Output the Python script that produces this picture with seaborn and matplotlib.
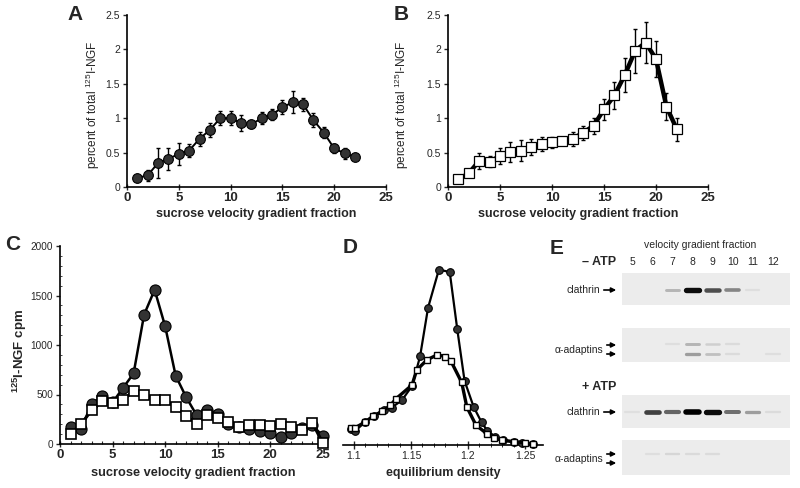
import matplotlib
matplotlib.use('Agg')
import matplotlib.pyplot as plt
import seaborn as sns
from matplotlib.patches import FancyArrowPatch
from matplotlib.ticker import MultipleLocator

# ---- data ----
# A / B: percent of total 125I-NGF per sucrose velocity gradient fraction
fraction_ab = list(range(1, 23))
pct_a = [0.13, 0.17, 0.35, 0.41, 0.48, 0.53, 0.70, 0.83, 1.00, 1.00, 0.93,
         0.91, 1.00, 1.05, 1.16, 1.23, 1.20, 0.97, 0.79, 0.56, 0.49, 0.44]
err_a = [0.03, 0.08, 0.22, 0.16, 0.16, 0.10, 0.10, 0.10, 0.10, 0.10, 0.12,
         0.05, 0.09, 0.08, 0.10, 0.16, 0.10, 0.10, 0.08, 0.06, 0.08, 0.04]
pct_b = [0.11, 0.20, 0.38, 0.37, 0.45, 0.51, 0.53, 0.58, 0.62, 0.65, 0.67,
         0.70, 0.79, 0.89, 1.13, 1.33, 1.63, 1.98, 2.10, 1.86, 1.17, 0.84]
err_b = [0.02, 0.05, 0.12, 0.08, 0.12, 0.14, 0.15, 0.12, 0.10, 0.08, 0.06,
         0.10, 0.10, 0.12, 0.15, 0.20, 0.25, 0.32, 0.30, 0.26, 0.20, 0.17]

# C: 125I-NGF cpm per velocity fraction
fraction_c = list(range(1, 26))
cpm_c_circle = [173, 147, 407, 480, 420, 567, 713, 1307, 1557, 1190, 690, 473,
                290, 347, 307, 207, 167, 147, 130, 107, 73, 113, 157, 190, 80]
cpm_c_square = [100, 200, 340, 433, 417, 440, 540, 497, 440, 440, 373, 285,
                207, 290, 267, 223, 167, 190, 190, 183, 197, 173, 140, 213, 10]

# D: cpm vs equilibrium density
dens_d_circle = [1.097, 1.101, 1.110, 1.118, 1.126, 1.133, 1.142, 1.151, 1.158,
                 1.165, 1.1745, 1.184, 1.1906, 1.197, 1.205, 1.212, 1.217,
                 1.224, 1.231, 1.240, 1.247, 1.257]
cpm_d_circle = [155, 135, 230, 290, 352, 372, 445, 590, 888, 1378, 1762, 1738,
                1162, 642, 378, 222, 138, 78, 45, 22, 12, 5]
dens_d_square = [1.097, 1.101, 1.110, 1.117, 1.125, 1.132, 1.137, 1.151, 1.155,
                 1.164, 1.173, 1.180, 1.185, 1.1945, 1.199, 1.207, 1.217,
                 1.223, 1.230, 1.240, 1.250, 1.257]
cpm_d_square = [170, 168, 228, 288, 335, 395, 462, 600, 750, 852, 904, 886,
                842, 625, 378, 195, 105, 62, 45, 28, 18, 5]

# E: band intensities (0..1) per lane
lanes = [5, 6, 7, 8, 9, 10, 11, 12]
clathrin_minus = [0.0, 0.0, 0.25, 0.95, 0.7, 0.45, 0.03, 0.0]
adaptin_minus_up = [0.0, 0.0, 0.03, 0.25, 0.12, 0.05, 0.0, 0.0]
adaptin_minus_lo = [0.0, 0.0, 0.0, 0.35, 0.2, 0.05, 0.0, 0.03]
clathrin_plus = [0.02, 0.75, 0.6, 1.0, 0.95, 0.55, 0.35, 0.05]
adaptin_plus_up = [0.0, 0.03, 0.08, 0.06, 0.05, 0.0, 0.0, 0.0]
adaptin_plus_lo = [0.0, 0.0, 0.0, 0.0, 0.0, 0.0, 0.0, 0.0]

# ---- style ----
sns.set_theme(style='ticks')
plt.rcParams['font.family'] = ['Liberation Sans', 'DejaVu Sans']
plt.rcParams['mathtext.default'] = 'regular'

W, H = 800, 488
fig = plt.figure(figsize=(8, 4.88), dpi=100)


def box(x0, y0, x1, y1):
    return [x0 / W, 1 - y1 / H, (x1 - x0) / W, (y1 - y0) / H]


def fpos(x, y):
    return (x / W, 1 - y / H)


dark = '#333333'

# ---- A ----
axA = fig.add_axes(box(127, 15, 386, 187))
axA.errorbar(fraction_ab, pct_a, yerr=err_a, fmt='none', ecolor='black',
             elinewidth=1, capsize=1.5, capthick=1, zorder=2)
sns.lineplot(x=fraction_ab, y=pct_a, ax=axA, color='black', lw=1.4, marker='o',
             markersize=7, markerfacecolor=dark, markeredgecolor='black',
             markeredgewidth=0.8, zorder=3)

# ---- B ----
axB = fig.add_axes(box(448, 15, 708, 187))
axB.errorbar(fraction_ab, pct_b, yerr=err_b, fmt='none', ecolor='black',
             elinewidth=1, capsize=1.5, capthick=1, zorder=2)
sns.lineplot(x=fraction_ab, y=pct_b, ax=axB, color='black', lw=3.2, marker='s',
             markersize=6.5, markerfacecolor='white', markeredgecolor='black',
             markeredgewidth=0.9, zorder=3)

for ax, ylab_x in ((axA, -0.097), (axB, -0.142)):
    ax.set_xlim(0, 25)
    ax.set_ylim(0, 2.5)
    ax.xaxis.set_major_locator(MultipleLocator(5))
    ax.set_yticks([0, 0.5, 1, 1.5, 2, 2.5], ['0', '0.5', '1', '1.5', '2', '2.5'])
    ax.tick_params(axis='x', direction='inout', length=5, width=1, labelsize=9.5, pad=1)
    ax.tick_params(axis='y', direction='out', length=3, width=1, labelsize=7.5, pad=2)
    for lab in ax.get_xticklabels():
        lab.set_fontweight('bold')
    ax.set_xlabel('sucrose velocity gradient fraction', fontsize=9, fontweight='bold')
    ax.xaxis.set_label_coords(0.5, -0.122)
    ax.set_ylabel('percent of total $^{125}$I-NGF', fontsize=8.5)
    ax.yaxis.set_label_coords(ylab_x, 0.48)
    sns.despine(ax=ax)
    for s in ('left', 'bottom'):
        ax.spines[s].set_linewidth(1.2)
        ax.spines[s].set_color('black')

# ---- C ----
axC = fig.add_axes(box(60, 246, 326, 444))
sns.lineplot(x=fraction_c, y=cpm_c_circle, ax=axC, color='black', lw=1.8, marker='o',
             markersize=8, markerfacecolor=dark, markeredgecolor='black',
             markeredgewidth=0.8, zorder=3, clip_on=False)
sns.lineplot(x=fraction_c, y=cpm_c_square, ax=axC, color='black', lw=2.2, marker='s',
             markersize=6.5, markerfacecolor='white', markeredgecolor='black',
             markeredgewidth=1.2, zorder=4, clip_on=False)
axC.set_xlim(0, 25.3)
axC.set_ylim(0, 2000)
axC.xaxis.set_major_locator(MultipleLocator(5))
axC.xaxis.set_minor_locator(MultipleLocator(1))
axC.yaxis.set_major_locator(MultipleLocator(500))
axC.yaxis.set_minor_locator(MultipleLocator(100))
axC.tick_params(axis='x', which='major', direction='inout', length=5, width=1,
                labelsize=9.5, pad=1)
axC.tick_params(axis='x', which='minor', direction='in', length=2.5, width=0.8)
axC.tick_params(axis='y', which='major', direction='out', length=3, width=1,
                labelsize=7.2, pad=2)
axC.tick_params(axis='y', which='minor', direction='in', length=1.5, width=0.6)
for lab in axC.get_xticklabels():
    lab.set_fontweight('bold')
axC.set_xlabel('sucrose velocity gradient fraction', fontsize=9.2, fontweight='bold')
axC.xaxis.set_label_coords(0.5, -0.115)
axC.set_ylabel('$^{125}$I-NGF cpm', fontsize=9.5, fontweight='bold')
axC.yaxis.set_label_coords(-0.118, 0.47)
sns.despine(ax=axC)
for s in ('left', 'bottom'):
    axC.spines[s].set_linewidth(1.2)
    axC.spines[s].set_color('black')

# ---- D ----
axD = fig.add_axes(box(343, 246, 543, 444.5))
sns.lineplot(x=dens_d_circle, y=cpm_d_circle, ax=axD, color='black', lw=1.6, marker='o',
             markersize=5.5, markerfacecolor=dark, markeredgecolor='black',
             markeredgewidth=0.8, zorder=3, clip_on=False)
sns.lineplot(x=dens_d_square, y=cpm_d_square, ax=axD, color='black', lw=2.4, marker='s',
             markersize=4.5, markerfacecolor='white', markeredgecolor='black',
             markeredgewidth=1.0, zorder=4, clip_on=False)
axD.set_xlim(1.0904, 1.2658)
axD.set_ylim(0, 2000)
axD.set_xticks([1.1, 1.15, 1.2, 1.25], ['1.1', '1.15', '1.2', '1.25'])
axD.xaxis.set_minor_locator(MultipleLocator(0.01))
axD.tick_params(axis='x', which='major', direction='inout', length=6, width=1,
                labelsize=7.5, pad=2)
axD.tick_params(axis='x', which='minor', direction='inout', length=3, width=0.7)
axD.set_yticks([])
axD.set_ylabel('')
axD.set_xlabel('equilibrium density', fontsize=9, fontweight='bold')
axD.xaxis.set_label_coords(0.5, -0.115)
sns.despine(ax=axD, left=True)
axD.spines['bottom'].set_linewidth(1.2)
axD.spines['bottom'].set_color('black')

# ---- E: gel strips ----
strip_boxes = [box(622, 273, 790, 305), box(622, 328, 790, 362),
               box(622, 395, 790, 428), box(622, 440, 790, 475)]
strip_bands = [[(0.47, clathrin_minus)],
               [(0.52, adaptin_minus_up), (0.25, adaptin_minus_lo)],
               [(0.48, clathrin_plus)],
               [(0.6, adaptin_plus_up), (0.3, adaptin_plus_lo)]]
greys = sns.color_palette('Greys', as_cmap=True)
for rect, bands in zip(strip_boxes, strip_bands):
    ax = fig.add_axes(rect)
    ax.set_facecolor('#ececec')
    ax.set_xlim(4.5, 12.85)
    ax.set_ylim(0, 1)
    for yb, vals in bands:
        for lane, v in zip(lanes, vals):
            if v <= 0:
                continue
            ax.hlines(yb, lane - 0.33, lane + 0.33, color=greys(0.2 + 0.8 * v),
                      lw=1.5 + 2.5 * v, capstyle='round')
    ax.set_xticks([])
    ax.set_yticks([])
    for s in ax.spines.values():
        s.set_visible(False)

fig.text(*fpos(700, 245), 'velocity gradient fraction', fontsize=7.5,
         ha='center', va='center')
for lane in lanes:
    fig.text(*fpos(632 + (lane - 5) * 20.14, 262), str(lane), fontsize=7.5,
             ha='center', va='center')
fig.text(*fpos(616, 262), '– ATP', fontsize=9, fontweight='bold', ha='right', va='center')
fig.text(*fpos(616, 387), '+ ATP', fontsize=9, fontweight='bold', ha='right', va='center')
fig.text(*fpos(600, 290), 'clathrin', fontsize=7.5, ha='right', va='center')
fig.text(*fpos(600, 412), 'clathrin', fontsize=7.5, ha='right', va='center')
fig.text(*fpos(603, 350), 'α-adaptins', fontsize=7.5, ha='right', va='center')
fig.text(*fpos(603, 459), 'α-adaptins', fontsize=7.5, ha='right', va='center')
for (x0, x1, y) in [(601, 619, 290), (601, 619, 412), (604, 619, 345),
                    (604, 619, 354), (604, 619, 454), (604, 619, 463)]:
    fig.add_artist(FancyArrowPatch(fpos(x0, y), fpos(x1, y), transform=fig.transFigure,
                                   arrowstyle='-|>', mutation_scale=7, lw=1.2,
                                   color='black'))

# panel letters
for letter, (x, y) in zip('ABCDE', [(75, 15), (401, 15), (13, 244), (350, 247), (557, 248)]):
    fig.text(*fpos(x, y), letter, fontsize=15, fontweight='bold', ha='center', va='center')

fig.savefig('out.png', dpi=100)
